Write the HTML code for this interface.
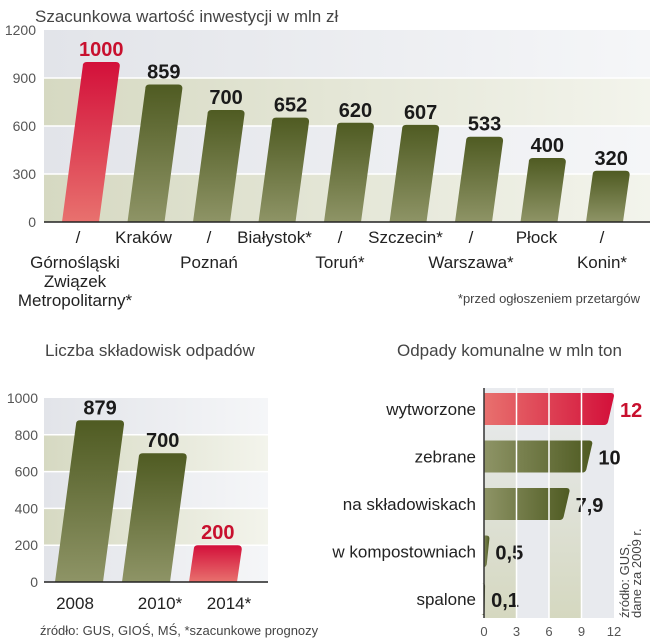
<!DOCTYPE html>
<html><head><meta charset="utf-8"><style>
html,body{margin:0;padding:0;background:#fff;}
svg{display:block;font-family:"Liberation Sans",sans-serif;}
</style></head><body>
<svg id="c" width="650" height="640" viewBox="0 0 650 640">
<defs>
<linearGradient id="olv" x1="0" y1="0" x2="0" y2="1"><stop offset="0" stop-color="#4f5b22"/><stop offset="1" stop-color="#8e9466"/></linearGradient>
<linearGradient id="red" x1="0" y1="0" x2="0" y2="1"><stop offset="0" stop-color="#d3103a"/><stop offset="1" stop-color="#e8716e"/></linearGradient>
<linearGradient id="olvh" x1="0" y1="0" x2="1" y2="0"><stop offset="0" stop-color="#8e9466"/><stop offset="1" stop-color="#4f5b22"/></linearGradient>
<linearGradient id="redh" x1="0" y1="0" x2="1" y2="0"><stop offset="0" stop-color="#e8716e"/><stop offset="1" stop-color="#d3103a"/></linearGradient>
<linearGradient id="bandA" x1="0" y1="0" x2="1" y2="0"><stop offset="0" stop-color="#d6d9c2"/><stop offset="1" stop-color="#f3f4ec"/></linearGradient>
<linearGradient id="bandB" x1="0" y1="0" x2="1" y2="0"><stop offset="0" stop-color="#e2e4e9"/><stop offset="1" stop-color="#f5f6f8"/></linearGradient>
<linearGradient id="vband" x1="0" y1="0" x2="0" y2="1"><stop offset="0" stop-color="#e9ebef"/><stop offset="1" stop-color="#d5d8c0"/></linearGradient>
</defs>
<g id="g1"></g>
<g id="g2"></g>
<g id="g3"></g>
</svg>
<script>
// Chart 1
const invCategories = ["Górnośląski Związek Metropolitarny*","Kraków","Poznań","Białystok*","Toruń*","Szczecin*","Warszawa*","Płock","Konin*"];
const invValues = [1000,859,700,652,620,607,533,400,320];
const invTicks = [0,300,600,900,1200];
// Chart 2
const lfCategories = ["2008","2010*","2014*"];
const lfValues = [879,700,200];
const lfTicks = [0,200,400,600,800,1000];
// Chart 3
const wCategories = ["wytworzone","zebrane","na składowiskach","w kompostowniach","spalone"];
const wValues = [12,10,7.9,0.5,0.1];
const wLabels = ["12","10","7,9","0,5","0,1"];
const wTicks = [0,3,6,9,12];

const NS="http://www.w3.org/2000/svg";
function mk(p,tag,attrs,txt){const e=document.createElementNS(NS,tag);for(const k in attrs)e.setAttribute(k,attrs[k]);if(txt!==undefined)e.textContent=txt;p.appendChild(e);return e;}
const SLANT=0.13;
function slantBar(p,xb,w,y0,yt,fill){const h=y0-yt,o=h*SLANT,r=4;
 return mk(p,"path",{d:`M${xb},${y0} L${xb+o},${yt+r} Q${xb+o},${yt} ${xb+o+r},${yt} L${xb+o+w-r},${yt} Q${xb+o+w},${yt} ${xb+o+w},${yt+r} L${xb+w},${y0} Z`,fill:fill});}

// ---------- chart 1
(function(){
const g=document.getElementById('g1');
const x0=44,x1=650,yB=222,yT=30,max=1200;
const Y=v=>yB-(v/max)*(yB-yT);
const X=i=>62+i*65.5;
let t=mk(g,"text",{x:35,y:22,"font-size":17,fill:"#444"},"Szacunkowa wartość inwestycji w mln zł");

for(let k=0;k<invTicks.length-1;k++){
 const r=mk(g,"rect",{x:x0,y:Y(invTicks[k+1]),width:x1-x0,height:Y(invTicks[k])-Y(invTicks[k+1]),fill:k%2==0?"url(#bandA)":"url(#bandB)"});
 
}
invTicks.forEach(v=>{
 if(v>0&&v<max){const l=mk(g,"line",{x1:x0,x2:x1,y1:Y(v),y2:Y(v),stroke:"#fff","stroke-width":1.5});}
 const tl=mk(g,"text",{x:36,y:Y(v)+5,"font-size":14,fill:"#555","text-anchor":"end"},String(v));
 
});
invValues.forEach((v,i)=>{
 const b=slantBar(g,X(i),37,yB,Y(v),i==0?"url(#red)":"url(#olv)");
 
 const cx=X(i)+(yB-Y(v))*SLANT+18.5;
 const vl=mk(g,"text",{x:cx,y:Y(v)-6,"font-size":20,"font-weight":"bold","text-anchor":"middle",fill:i==0?"#c8102e":"#1a1a1a"},String(v));
 
 const lx=X(i)+16;
 if(i%2==1){
  const cl=mk(g,"text",{x:lx,y:243,"font-size":17,"text-anchor":"middle",fill:"#222"},invCategories[i]);
  
 } else {
  const sl=mk(g,"text",{x:lx,y:243,"font-size":17,"text-anchor":"middle",fill:"#222"},"/");
  
  const parts=i==0?["Górnośląski","Związek","Metropolitarny*"]:[invCategories[i]];
  parts.forEach((p,j)=>{const cl=mk(g,"text",{x:i==0?75:lx,y:268+j*19,"font-size":17,"text-anchor":"middle",fill:"#222"},p);
   });
 }
});
const ax=mk(g,"line",{x1:x0,x2:x1,y1:yB,y2:yB,stroke:"#222","stroke-width":1.5});

const n=mk(g,"text",{x:640,y:303,"font-size":13,"text-anchor":"end",fill:"#444"},"*przed ogłoszeniem przetargów");

})();

// ---------- chart 2
(function(){
const g=document.getElementById('g2');
const x0=44,x1=268,yB=582,yT=398,max=1000;
const Y=v=>yB-(v/max)*(yB-yT);
const X=i=>55+i*67;
let t=mk(g,"text",{x:45,y:356,"font-size":17,fill:"#444"},"Liczba składowisk odpadów");

for(let k=0;k<lfTicks.length-1;k++){
 const r=mk(g,"rect",{x:x0,y:Y(lfTicks[k+1]),width:x1-x0,height:Y(lfTicks[k])-Y(lfTicks[k+1]),fill:k%2==1?"url(#bandA)":"url(#bandB)"});
 
}
lfTicks.forEach(v=>{
 if(v>0&&v<max){const l=mk(g,"line",{x1:x0,x2:x1,y1:Y(v),y2:Y(v),stroke:"#fff","stroke-width":1.5});}
 const tl=mk(g,"text",{x:38,y:Y(v)+5,"font-size":14,fill:"#555","text-anchor":"end"},String(v));
 
});
lfValues.forEach((v,i)=>{
 const b=slantBar(g,X(i),48,yB,Y(v),i==2?"url(#red)":"url(#olv)");
 
 const cx=X(i)+(yB-Y(v))*SLANT+24;
 const vl=mk(g,"text",{x:cx,y:Y(v)-6,"font-size":20,"font-weight":"bold","text-anchor":"middle",fill:i==2?"#c8102e":"#1a1a1a"},String(v));
 
 const cl=mk(g,"text",{x:[75,160,229][i],y:609,"font-size":17,"text-anchor":"middle",fill:"#222"},lfCategories[i]);
 
});
const ax=mk(g,"line",{x1:x0,x2:x1,y1:yB,y2:yB,stroke:"#222","stroke-width":1.5});

const s=mk(g,"text",{x:40,y:635,"font-size":13,fill:"#444"},"źródło: GUS, GIOŚ, MŚ, *szacunkowe prognozy");

})();

// ---------- chart 3
(function(){
const g=document.getElementById('g3');
const xA=484,max=12,xM=614,yT=388,yB=618;
const X=v=>xA+(v/max)*(xM-xA);
const Yc=i=>409+i*47.5;
let t=mk(g,"text",{x:397,y:356,"font-size":17,fill:"#444"},"Odpady komunalne w mln ton");

for(let k=0;k<wTicks.length-1;k++){
 const r=mk(g,"rect",{x:X(wTicks[k]),y:yT,width:X(wTicks[k+1])-X(wTicks[k]),height:yB-yT,fill:k%2==0?"url(#vband)":"#e8eaee"});
 
}
wValues.forEach((v,i)=>{
 const y=Yc(i),h=32,w=X(v)-xA,o=Math.min(6,w*0.5);
 const b=mk(g,"path",{d:`M${xA},${y-h/2} L${xA+w-3},${y-h/2} Q${xA+w},${y-h/2} ${xA+w},${y-h/2+3} L${xA+w-o},${y+h/2-3} Q${xA+w-o-1},${y+h/2} ${xA+w-o-4},${y+h/2} L${xA},${y+h/2} Z`,fill:i==0?"url(#redh)":"url(#olvh)"});
 
 const cl=mk(g,"text",{x:476,y:y+6,"font-size":17,"text-anchor":"end",fill:"#222"},wCategories[i]);
 
 const vl=mk(g,"text",{x:X(v)+6,y:y+8,"font-size":20,"font-weight":"bold",fill:i==0?"#c8102e":"#1a1a1a"},wLabels[i]);
 
});
wTicks.forEach(v=>{
 if(v>0&&v<max){const l=mk(g,"line",{x1:X(v),x2:X(v),y1:yT,y2:yB,stroke:"#fff","stroke-width":1.5});}
 const tl=mk(g,"text",{x:X(v),y:636,"font-size":13,fill:"#555","text-anchor":"middle"},String(v));
 
});
const ax=mk(g,"line",{x1:xA,x2:xA,y1:yT,y2:yB,stroke:"#333","stroke-width":1.5});

const s=mk(g,"text",{transform:"translate(629,618) rotate(-90)","font-size":13,fill:"#444"});

mk(s,"tspan",{x:0,dy:0},"źródło: GUS,");
mk(s,"tspan",{x:0,dy:12},"dane za 2009 r.");
})();
</script>
</body></html>
